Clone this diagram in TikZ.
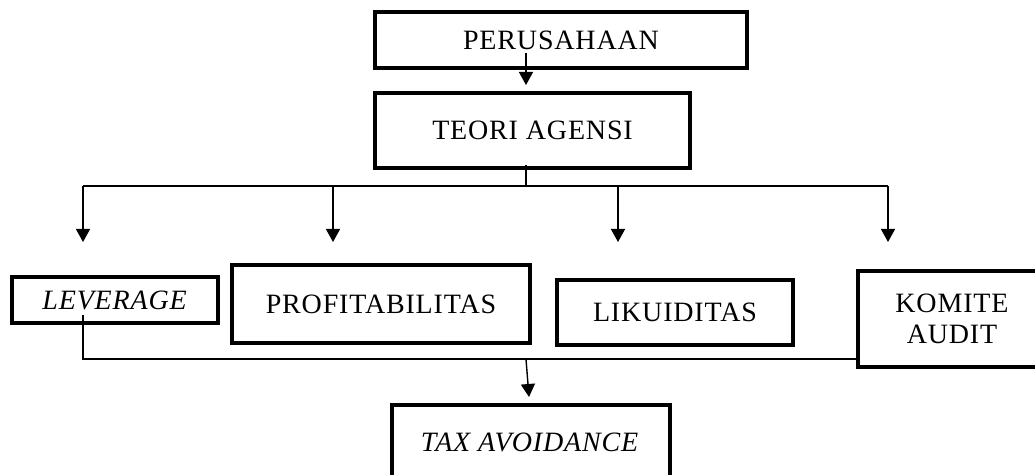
\documentclass[tikz,border=0pt]{standalone}
\usepackage{fontspec}
\setmainfont[LetterSpace=3]{Liberation Serif}
\usetikzlibrary{arrows.meta}
\tikzset{
  box/.style={draw, line width=2pt, inner sep=0pt, align=center, font=\fontsize{14}{15.5}\selectfont},
  lbl/.style={inner sep=0pt, align=center, font=\fontsize{14}{15.5}\selectfont},
  conn/.style={line width=0.7pt},
  arr/.style={line width=0.7pt, -{Triangle[length=6.5pt,width=7pt]}}
}
\begin{document}
\begin{tikzpicture}[x=0.5pt,y=-0.5pt]
\useasboundingbox (0,0) rectangle (1035,475);
\node[box, minimum width=186pt, minimum height=28pt] (per) at (561,40) {PERUSAHAAN};
\node[box, minimum width=157.5pt, minimum height=37.5pt] (teo) at (532.5,130.5) {TEORI AGENSI};
\node[box, line width=1.8pt, minimum width=103pt, minimum height=23pt] (lev) at (115,300) {\textit{LEVERAGE}};
\node[box, minimum width=149pt, minimum height=39pt] (pro) at (381,304) {PROFITABILITAS};
\node[box, minimum width=118pt, minimum height=32.5pt] (lik) at (675,312.5) {LIKUIDITAS};
\node[box, minimum width=94pt, minimum height=48pt] (kom) at (952,319) {KOMITE\\AUDIT};
\node[box, minimum width=139pt, minimum height=42.5pt] (tax) at (531,447.5) {};
\node[lbl] (taxt) at (530,442) {\textit{TAX AVOIDANCE}};
% connectors
\coordinate (pa) at (526,53);
\coordinate (pb) at (526,85);
\draw[arr] (pa) -- (pb);
\coordinate (ta) at (526,165);
\coordinate (tb) at (526,186);
\coordinate (hl) at (83,186);
\coordinate (hr) at (888,186);
\draw[conn] (ta) -- (tb);
\draw[conn] (hl) -- (hr);
\foreach \x/\n in {83/1,333/2,618/3,888/4}{
  \coordinate (s\n) at (\x,186);
  \coordinate (e\n) at (\x,242);
  \draw[arr] (s\n) -- (e\n);
}
\coordinate (la) at (83,315);
\coordinate (lb) at (83,359);
\coordinate (kb) at (858,359);
\draw[conn] (la) -- (lb) -- (kb);
\coordinate (ma) at (526,359);
\coordinate (mb) at (529,397);
\draw[arr] (ma) -- (mb);
\end{tikzpicture}
\end{document}
